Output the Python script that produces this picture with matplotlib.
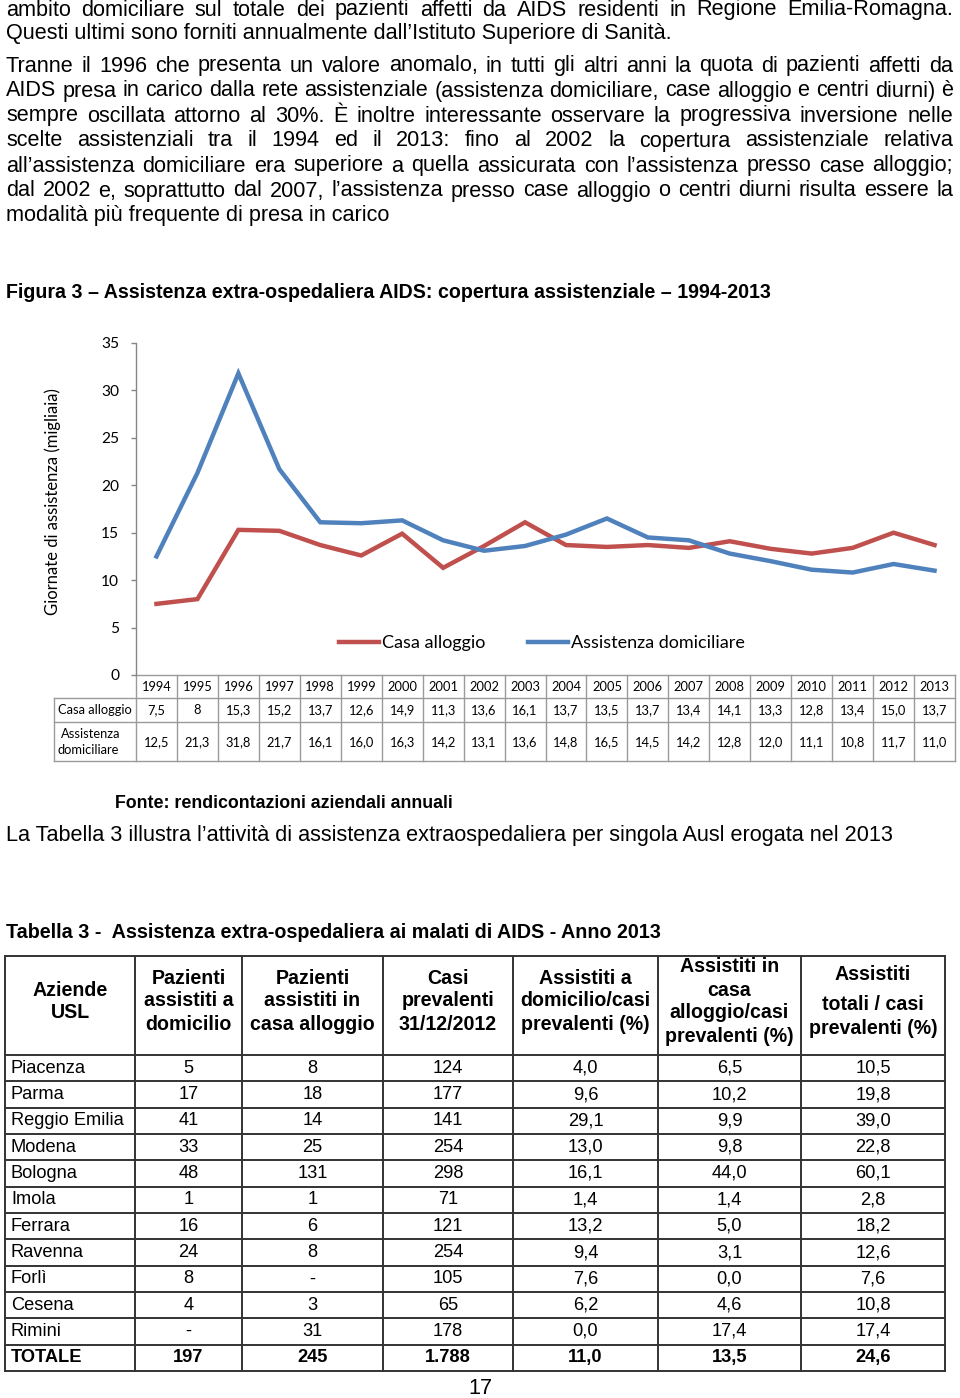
import matplotlib
matplotlib.use('Agg')
import matplotlib.pyplot as plt
from matplotlib.lines import Line2D

# ---------------- data ----------------
years = [1994, 1995, 1996, 1997, 1998, 1999, 2000, 2001, 2002, 2003,
         2004, 2005, 2006, 2007, 2008, 2009, 2010, 2011, 2012, 2013]
casa_alloggio = [7.5, 8, 15.3, 15.2, 13.7, 12.6, 14.9, 11.3, 13.6, 16.1,
                 13.7, 13.5, 13.7, 13.4, 14.1, 13.3, 12.8, 13.4, 15.0, 13.7]
assistenza_domiciliare = [12.5, 21.3, 31.8, 21.7, 16.1, 16.0, 16.3, 14.2, 13.1, 13.6,
                          14.8, 16.5, 14.5, 14.2, 12.8, 12.0, 11.1, 10.8, 11.7, 11.0]
series_names = ['Casa alloggio', 'Assistenza domiciliare']
y_ticks = [0, 5, 10, 15, 20, 25, 30, 35]

aziende = ["Piacenza", "Parma", "Reggio Emilia", "Modena", "Bologna", "Imola",
           "Ferrara", "Ravenna", "Forlì", "Cesena", "Rimini", "TOTALE"]
paz_domicilio = ["5", "17", "41", "33", "48", "1", "16", "24", "8", "4", "-", "197"]
paz_alloggio = ["8", "18", "14", "25", "131", "1", "6", "8", "-", "3", "31", "245"]
casi_prevalenti = ["124", "177", "141", "254", "298", "71", "121", "254", "105", "65", "178", "1.788"]
pct_domicilio = ["4,0", "9,6", "29,1", "13,0", "16,1", "1,4", "13,2", "9,4", "7,6", "6,2", "0,0", "11,0"]
pct_alloggio = ["6,5", "10,2", "9,9", "9,8", "44,0", "1,4", "5,0", "3,1", "0,0", "4,6", "17,4", "13,5"]
pct_totale = ["10,5", "19,8", "39,0", "22,8", "60,1", "2,8", "18,2", "12,6", "7,6", "10,8", "17,4", "24,6"]

# ---------------- setup ----------------
W, H = 960, 1398
fig = plt.figure(figsize=(W / 100, H / 100), dpi=100)
pg = fig.add_axes([0, 0, 1, 1])
pg.set_xlim(0, W)
pg.set_ylim(H, 0)
pg.axis('off')
renderer = fig.canvas.get_renderer()

ARIAL = 'Liberation Sans'
CAL = 'Lato'
RED = '#C0504D'
BLUE = '#4F81BD'


def measure(s, size, **kw):
    t = pg.text(0, 0, s, fontsize=size, **kw)
    w = t.get_window_extent(renderer).width
    t.remove()
    return w


def fit(s, width, **kw):
    return 10 * width / measure(s, 10, **kw)


def justify(s, x0, x1, y, size, **kw):
    words = s.split(' ')
    ws = [measure(w, size, **kw) for w in words]
    gap = (x1 - x0 - sum(ws)) / (len(words) - 1)
    x = x0
    for w, wd in zip(words, ws):
        pg.text(x, y, w, fontsize=size, ha='left', va='center', **kw)
        x += wd + gap


# ---------------- body text ----------------
last_line = "La Tabella 3 illustra l’attività di assistenza extraospedaliera per singola Ausl erogata nel 2013"
body = fit(last_line, 891, family=ARIAL)

para = [
    ("ambito domiciliare sul totale dei pazienti affetti da AIDS residenti in Regione Emilia-Romagna.", 10, True),
    ("Questi ultimi sono forniti annualmente dall’Istituto Superiore di Sanità.", 34, False),
    ("Tranne il 1996 che presenta un valore anomalo, in tutti gli altri anni la quota di pazienti affetti da", 66, True),
    ("AIDS presa in carico dalla rete assistenziale (assistenza domiciliare, case alloggio e centri diurni) è", 91, True),
    ("sempre oscillata attorno al 30%. È inoltre interessante osservare la progressiva inversione nelle", 116, True),
    ("scelte assistenziali tra il 1994 ed il 2013: fino al 2002 la copertura assistenziale relativa", 141, True),
    ("all’assistenza domiciliare era superiore a quella assicurata con l’assistenza presso case alloggio;", 166, True),
    ("dal 2002 e, soprattutto dal 2007, l’assistenza presso case alloggio o centri diurni risulta essere la", 191, True),
    ("modalità più frequente di presa in carico", 216, False),
]
for s, y, j in para:
    if j:
        justify(s, 6, 953, y, body, family=ARIAL)
    else:
        pg.text(6, y, s, fontsize=body, ha='left', va='center', family=ARIAL)

title = "Figura 3 – Assistenza extra-ospedaliera AIDS: copertura assistenziale – 1994-2013"
ts = fit(title, 767, family=ARIAL, weight='bold')
pg.text(6, 292, title, fontsize=ts, ha='left', va='center', family=ARIAL, weight='bold')

fonte = "Fonte: rendicontazioni aziendali annuali"
fs = fit(fonte, 337, family=ARIAL, weight='bold')
pg.text(115, 804, fonte, fontsize=fs, ha='left', va='center', family=ARIAL, weight='bold')

pg.text(6, 835, last_line, fontsize=body, ha='left', va='center', family=ARIAL)

tab_title = "Tabella 3 -  Assistenza extra-ospedaliera ai malati di AIDS - Anno 2013"
tts = fit(tab_title, 654, family=ARIAL, weight='bold')
pg.text(6, 932, tab_title, fontsize=tts, ha='left', va='center', family=ARIAL, weight='bold')

pg.text(480, 1389, "17", fontsize=body, ha='center', va='center', family=ARIAL)

# ---------------- chart ----------------
x_left, x_right, y_top, y_bot = 136, 955, 343, 675
ax = fig.add_axes([x_left / W, 1 - y_bot / H, (x_right - x_left) / W, (y_bot - y_top) / H])
ax.patch.set_alpha(0)
xs = list(range(len(years)))
ax.plot(xs, casa_alloggio, color=RED, lw=3.2, solid_joinstyle='miter')
ax.plot(xs, assistenza_domiciliare, color=BLUE, lw=3.2, solid_joinstyle='miter')
ax.set_xlim(-0.5, len(years) - 0.5)
ax.set_ylim(0, 35)
for sp in ['top', 'right', 'bottom']:
    ax.spines[sp].set_visible(False)
ax.spines['left'].set_color('#868686')
ax.spines['left'].set_linewidth(1.0)
ax.set_xticks([])
ax.set_yticks(y_ticks)
tick_size = fit("35", 18, family=CAL)
ax.tick_params(axis='y', direction='out', length=3.6, width=1.0, color='#868686',
               labelsize=tick_size, pad=8.5)
for lab in ax.get_yticklabels():
    lab.set_family(CAL)

ylab = "Giornate di assistenza (migliaia)"
ys = fit(ylab, 228, family=CAL)
pg.text(53, 502, ylab, fontsize=ys, rotation=90, ha='center', va='center', family=CAL)

leg_size = fit("Casa alloggio", 103, family=CAL)
em = leg_size * 100 / 72
handles = [Line2D([], [], color=RED, lw=3.2), Line2D([], [], color=BLUE, lw=3.2)]
fig.legend(handles, series_names, loc='center left', bbox_to_anchor=(339 / W, 1 - 643 / H),
           ncol=2, frameon=False, borderpad=0, borderaxespad=0,
           handlelength=40 / em, handletextpad=3 / em, columnspacing=43 / em,
           prop={'family': CAL, 'size': leg_size})

# data table below chart
grid = '#9A9A9A'
glw = 1.0
cw = (x_right - x_left) / len(years)
tsz = fit("Casa alloggio", 74, family=CAL)
r0, r1, r2, r3 = 675, 698, 722, 761
pg.plot([x_left, x_right], [r0, r0], color=grid, lw=glw)
for yy in (r1, r2, r3):
    pg.plot([54, x_right], [yy, yy], color=grid, lw=glw)
pg.plot([54, 54], [r1, r3], color=grid, lw=glw)
for i in range(len(years) + 1):
    xx = x_left + i * cw
    pg.plot([xx, xx], [r0, r3], color=grid, lw=glw)


def fmt(v):
    return str(v) if isinstance(v, int) else f"{v:.1f}".replace('.', ',')


for i, yr in enumerate(years):
    cx = x_left + (i + 0.5) * cw
    pg.text(cx, 687, str(yr), fontsize=tsz, ha='center', va='center', family=CAL)
    pg.text(cx, 710, fmt(casa_alloggio[i]), fontsize=tsz, ha='center', va='center', family=CAL)
    pg.text(cx, 742, fmt(assistenza_domiciliare[i]), fontsize=tsz, ha='center', va='center', family=CAL)
pg.text(58, 710, "Casa alloggio", fontsize=tsz, ha='left', va='center', family=CAL)
pg.text(61, 734, "Assistenza", fontsize=tsz, ha='left', va='center', family=CAL)
pg.text(58, 750, "domiciliare", fontsize=tsz, ha='left', va='center', family=CAL)

# ---------------- table 3 ----------------
cx_edges = [5, 135, 242, 383, 513, 658, 801, 945]
t_top, t_head = 956, 1055
rh = (1371 - t_head) / len(aziende)
tcol = '#333333'
tlw = 1.4
for xx in cx_edges:
    pg.plot([xx, xx], [t_top, t_head + rh * len(aziende)], color=tcol, lw=tlw)
for k in range(len(aziende) + 1):
    yy = t_head + k * rh
    pg.plot([cx_edges[0], cx_edges[-1]], [yy, yy], color=tcol, lw=tlw)
pg.plot([cx_edges[0], cx_edges[-1]], [t_top, t_top], color=tcol, lw=tlw)

bsz = fit("Reggio Emilia", 113, family=ARIAL)
hsz = fit("alloggio/casi", 119, family=ARIAL, weight='bold')

headers = [
    (["Aziende", "USL"], [990, 1013]),
    (["Pazienti", "assistiti a", "domicilio"], [978, 1001, 1024]),
    (["Pazienti", "assistiti in", "casa alloggio"], [978, 1001, 1024]),
    (["Casi", "prevalenti", "31/12/2012"], [978, 1001, 1024]),
    (["Assistiti a", "domicilio/casi", "prevalenti (%)"], [978, 1001, 1024]),
    (["Assistiti in", "casa", "alloggio/casi", "prevalenti (%)"], [967, 990, 1013, 1036]),
    (["Assistiti", "totali / casi", "prevalenti (%)"], [975, 1005, 1029]),
]
for c, (lines, ypos) in enumerate(headers):
    cx = (cx_edges[c] + cx_edges[c + 1]) / 2
    for s, yy in zip(lines, ypos):
        pg.text(cx, yy, s, fontsize=hsz, ha='center', va='center', family=ARIAL, weight='bold')

cols = [paz_domicilio, paz_alloggio, casi_prevalenti, pct_domicilio, pct_alloggio, pct_totale]
for r, name in enumerate(aziende):
    yy = t_head + (r + 0.5) * rh
    wt = 'bold' if name == 'TOTALE' else 'normal'
    pg.text(11, yy, name, fontsize=bsz, ha='left', va='center', family=ARIAL, weight=wt)
    for c, col in enumerate(cols):
        cx = (cx_edges[c + 1] + cx_edges[c + 2]) / 2
        pg.text(cx, yy, col[r], fontsize=bsz, ha='center', va='center', family=ARIAL, weight=wt)

fig.savefig('out.png', dpi=100)
